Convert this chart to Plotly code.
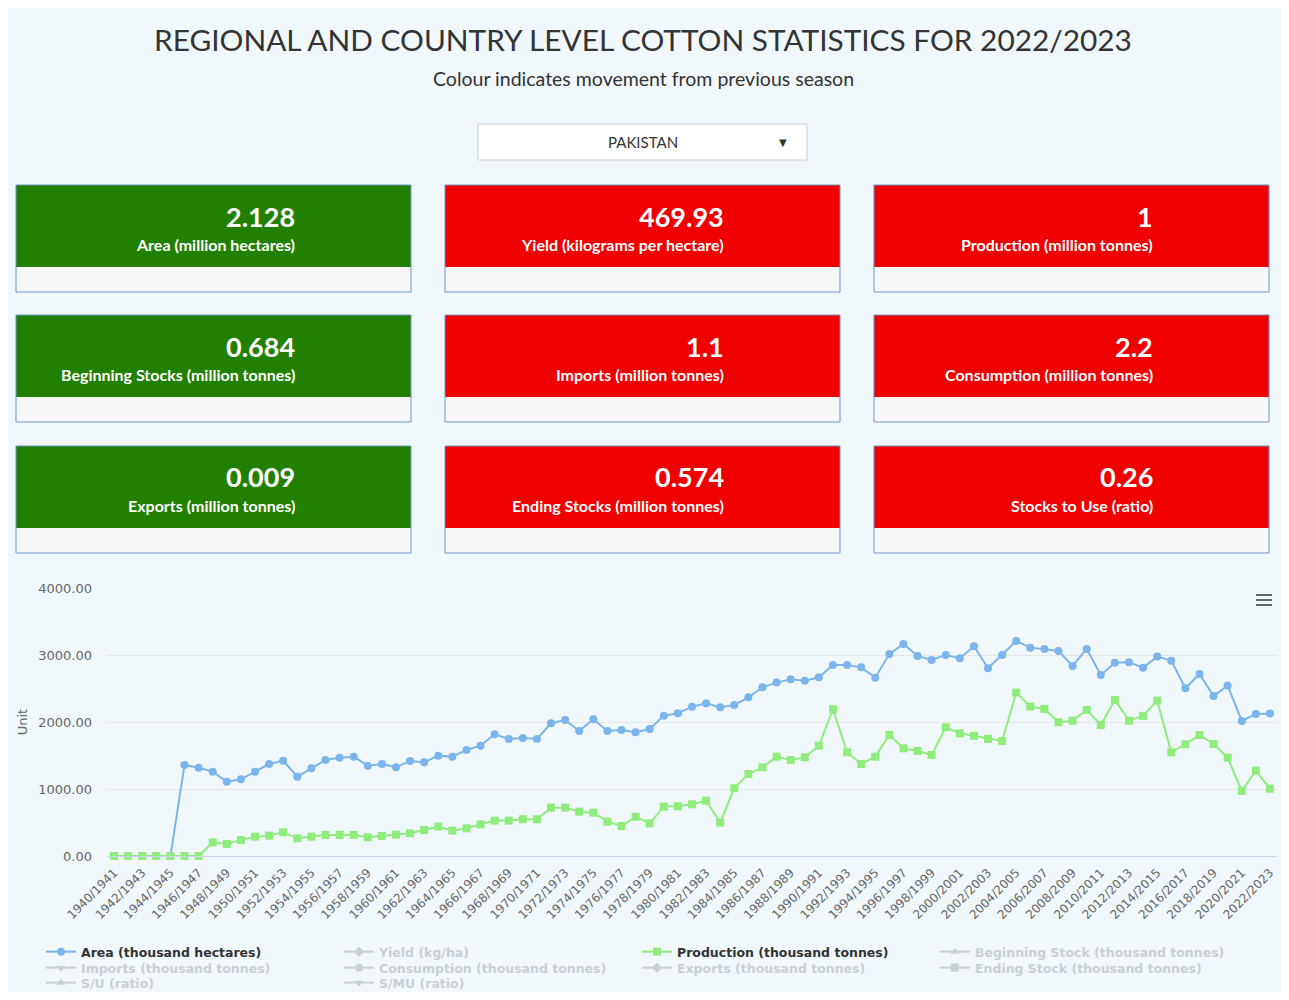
import plotly.graph_objects as go

# seasons on the x axis
seasons = [f"{y}/{y + 1}" for y in range(1940, 2023)]

# thousand hectares
area = [0, 0, 0, 0, 0, 1359, 1318, 1259, 1109, 1145,
        1259, 1373, 1423, 1184, 1309, 1433, 1468, 1483, 1348, 1373,
        1324, 1418, 1398, 1498, 1483, 1582, 1647, 1816, 1747, 1762,
        1747, 1981, 2030, 1866, 2040, 1866, 1881, 1846, 1896, 2095,
        2129, 2229, 2279, 2219, 2254, 2368, 2518, 2588, 2637, 2617,
        2667, 2851, 2851, 2816, 2662, 3016, 3165, 2986, 2926, 3001,
        2951, 3130, 2802, 3001, 3210, 3110, 3090, 3061, 2837, 3090,
        2702, 2886, 2891, 2811, 2976, 2916, 2503, 2717, 2389, 2543,
        2015, 2120, 2128]

# thousand tonnes
production = [0, 0, 0, 0, 0, 0, 0, 204, 179, 239,
              289, 304, 354, 264, 289, 314, 314, 314, 279, 299,
              319, 339, 388, 438, 378, 413, 473, 528, 528, 548,
              548, 722, 722, 662, 647, 513, 448, 587, 488, 737,
              742, 772, 826, 500, 1011, 1224, 1324, 1483, 1433, 1473,
              1647, 2190, 1548, 1373, 1483, 1806, 1607, 1567, 1508, 1921,
              1831, 1794, 1747, 1717, 2438, 2229, 2195, 1996, 2020, 2180,
              1956, 2329, 2020, 2090, 2319, 1548, 1667, 1806, 1672, 1468,
              970, 1274, 1005]

# series switched off in the legend, values not shown
no_values = [None] * len(seasons)

# summary cards (row by row)
card_values = ["2.128", "469.93", "1", "0.684", "1.1", "2.2", "0.009", "0.574", "0.26"]
card_labels = ["Area (million hectares)", "Yield (kilograms per hectare)",
               "Production (million tonnes)", "Beginning Stocks (million tonnes)",
               "Imports (million tonnes)", "Consumption (million tonnes)",
               "Exports (million tonnes)", "Ending Stocks (million tonnes)",
               "Stocks to Use (ratio)"]
card_moves = ["up", "down", "down", "up", "down", "down", "up", "down", "down"]

hidden_series = [("Yield (kg/ha)", "diamond", "legend2"),
                 ("Beginning Stock (thousand tonnes)", "triangle-up", "legend2"),
                 ("Imports (thousand tonnes)", "triangle-down", "legend3"),
                 ("Consumption (thousand tonnes)", "circle", "legend3"),
                 ("Exports (thousand tonnes)", "diamond", "legend3"),
                 ("Ending Stock (thousand tonnes)", "square", "legend3"),
                 ("S/U (ratio)", "triangle-up", "legend4"),
                 ("S/MU (ratio)", "triangle-down", "legend4")]

# page is offset by the 8px body margin
W, H = 1273, 984
OX, OY = 8, 8
BG = "#f0f8fc"


def px(x):
    return (x - OX) / W


def py(y):
    return 1 - (y - OY) / H


def add_hidden(name, sym, lg):
    fig.add_trace(go.Scatter(x=seasons, y=no_values, name=name, mode="lines+markers",
                             visible="legendonly", line=dict(color="#a8a8a8", width=2),
                             marker=dict(symbol=sym, size=8, color="#a8a8a8"), legend=lg))


fig = go.Figure()

fig.add_trace(go.Scatter(x=seasons, y=area, name="Area (thousand hectares)",
                         mode="lines+markers", line=dict(color="#7cb5ec", width=2),
                         marker=dict(symbol="circle", size=8, color="#7cb5ec"),
                         cliponaxis=False, legend="legend"))
add_hidden(*hidden_series[0])
fig.add_trace(go.Scatter(x=seasons, y=production, name="Production (thousand tonnes)",
                         mode="lines+markers", line=dict(color="#90ed7d", width=2),
                         marker=dict(symbol="square", size=8, color="#90ed7d"),
                         cliponaxis=False, legend="legend"))
for s in hidden_series[1:]:
    add_hidden(*s)

shapes = []
annotations = []

# title block
annotations.append(dict(x=px(643), y=py(40), xref="paper", yref="paper", showarrow=False,
                        text="REGIONAL AND COUNTRY LEVEL COTTON STATISTICS FOR 2022/2023",
                        font=dict(family="Lato", size=29.8, color="#333333"),
                        xanchor="center", yanchor="middle"))
annotations.append(dict(x=px(643), y=py(79), xref="paper", yref="paper", showarrow=False,
                        text="Colour indicates movement from previous season",
                        font=dict(family="Lato", size=19.5, color="#333333"),
                        xanchor="center", yanchor="middle"))

# country selector
shapes.append(dict(type="rect", xref="paper", yref="paper", x0=px(478), x1=px(807),
                   y0=py(160), y1=py(124), fillcolor="white",
                   line=dict(color="#cfcfcf", width=1)))
annotations.append(dict(x=px(643), y=py(142), xref="paper", yref="paper", showarrow=False,
                        text="PAKISTAN", font=dict(family="Lato", size=15, color="#333333"),
                        xanchor="center", yanchor="middle"))
annotations.append(dict(x=px(783), y=py(142), xref="paper", yref="paper", showarrow=False,
                        text="▼", font=dict(family="DejaVu Sans", size=10, color="#333333"),
                        xanchor="center", yanchor="middle"))

# cards
col_left = [16, 445, 874]
row_top = [185, 315, 446]
for i, (val, lab, mv) in enumerate(zip(card_values, card_labels, card_moves)):
    x0 = col_left[i % 3]
    x1 = x0 + 395
    y0 = row_top[i // 3]
    fill = "#228000" if mv == "up" else "#f00000"
    shapes.append(dict(type="rect", xref="paper", yref="paper", x0=px(x0), x1=px(x1),
                       y0=py(y0 + 107), y1=py(y0 + 82), fillcolor="#f7f7f7",
                       line=dict(width=0)))
    shapes.append(dict(type="rect", xref="paper", yref="paper", x0=px(x0), x1=px(x1),
                       y0=py(y0 + 82), y1=py(y0), fillcolor=fill, line=dict(width=0)))
    shapes.append(dict(type="rect", xref="paper", yref="paper", x0=px(x0), x1=px(x1),
                       y0=py(y0 + 107), y1=py(y0), fillcolor="rgba(0,0,0,0)",
                       line=dict(color="#6d95c8", width=1)))
    annotations.append(dict(x=px(x0 + 281), y=py(y0 + 31), xref="paper", yref="paper",
                            showarrow=False, text=val, xanchor="right", yanchor="middle",
                            font=dict(family="Lato", size=27, color="white", weight="bold")))
    annotations.append(dict(x=px(x0 + 281), y=py(y0 + 59), xref="paper", yref="paper",
                            showarrow=False, text=lab, xanchor="right", yanchor="middle",
                            font=dict(family="Lato", size=16, color="white", weight="bold")))

# context menu icon
for yy in (595, 600, 605):
    shapes.append(dict(type="line", xref="paper", yref="paper", x0=px(1256), x1=px(1272),
                       y0=py(yy), y1=py(yy), line=dict(color="#666666", width=2)))

leg_common = dict(orientation="h", xanchor="left", yanchor="middle", bgcolor="rgba(0,0,0,0)",
                  itemwidth=30, entrywidthmode="pixels", itemclick=False, itemdoubleclick=False)
active_font = dict(family="DejaVu Sans", size=12.5, color="#333333", weight="bold")
hidden_font = dict(family="DejaVu Sans", size=12.5, color="#a8a8a8", weight="bold")

fig.update_layout(
    width=W, height=H,
    margin=dict(l=0, r=0, t=0, b=0, autoexpand=False),
    paper_bgcolor=BG, plot_bgcolor=BG,
    font=dict(family="DejaVu Sans", color="#666666"),
    shapes=shapes, annotations=annotations,
    xaxis=dict(domain=[px(107), px(1277)], type="category", range=[-0.5, 82.5],
               tickmode="array", tickvals=seasons[::2], ticktext=seasons[::2],
               tickangle=-45, tickfont=dict(size=12, color="#666666"), ticklabelstandoff=4,
               showgrid=False, showline=True, linecolor="#ccd6eb", linewidth=1,
               ticks="", zeroline=False, automargin=False, fixedrange=True),
    yaxis=dict(domain=[py(856), py(588)], range=[0, 4000], dtick=1000, tickformat=".2f",
               tickfont=dict(size=13, color="#666666"), gridcolor="#e6e6e6", gridwidth=1,
               zeroline=False, showline=False, ticklabelstandoff=14, automargin=False,
               title=dict(text="Unit", font=dict(size=13, color="#666666"), standoff=7),
               fixedrange=True),
    showlegend=True,
    legend=dict(x=px(41), y=py(952), entrywidth=551, font=active_font, **leg_common),
    legend2=dict(x=px(339), y=py(952), entrywidth=551, font=hidden_font, **leg_common),
    legend3=dict(x=px(41), y=py(968), entrywidth=253, font=hidden_font, **leg_common),
    legend4=dict(x=px(41), y=py(983), entrywidth=253, font=hidden_font, **leg_common),
)

fig.write_html("out.html", config={"displayModeBar": False})
